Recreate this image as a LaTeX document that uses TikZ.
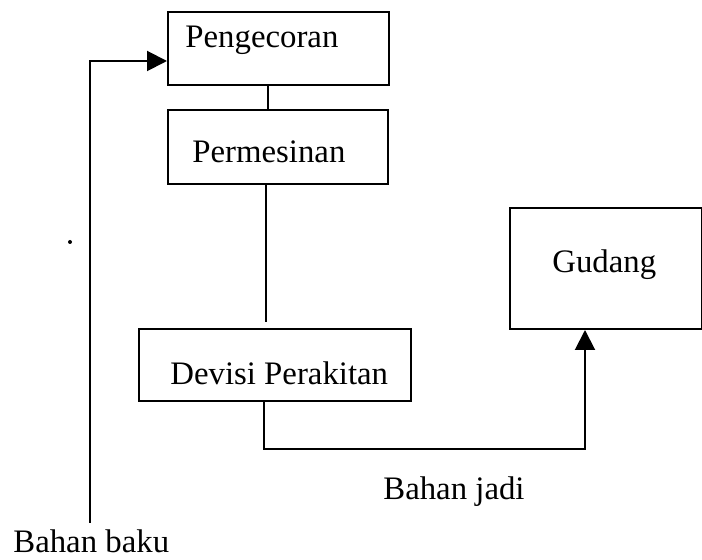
\documentclass[tikz,border=0pt]{standalone}
\usepackage{fontspec}
\setmainfont{Liberation Serif}
\usetikzlibrary{arrows.meta}
\begin{document}
\begin{tikzpicture}[x=0.5pt,y=-0.5pt,
  box/.style={draw, line width=1pt, inner sep=0pt, anchor=north west},
  lbl/.style={anchor=base west, inner sep=0pt, font=\fontsize{16.4}{19}\selectfont},
  conn/.style={line width=1pt},
  arr/.style={line width=1pt, -{Triangle[length=10pt,width=10pt]}}]
\useasboundingbox (0,0) rectangle (702,560);
% boxes
\node[box, minimum width=110.5pt, minimum height=36.5pt] (peng) at (167,11) {};
\node[box, minimum width=110pt, minimum height=37pt] (perm) at (167,109) {};
\node[box, minimum width=136pt, minimum height=36pt] (devisi) at (138,328) {};
\node[box, minimum width=96pt, minimum height=60.5pt] (gudang) at (509,207) {};
% texts
\node[lbl] (tpeng) at (185,48) {Pengecoran};
\node[lbl] (tperm) at (192,163) {Permesinan};
\node[lbl] (tdev) at (170,385) {Devisi Perakitan};
\node[lbl] (tgud) at (552,273) {Gudang};
\node[lbl] (jadi) at (383,500) {Bahan jadi};
\node[lbl] (baku) at (13,553) {Bahan baku};
% coordinates
\coordinate (bb) at (90,523);
\coordinate (permend) at (266,322);
\coordinate (corner) at (585,449);
% connectors
\draw[conn] ([xshift=-5.25pt]peng.south) -- ([xshift=-5.25pt]peng.south |- perm.north);
\draw[conn] (perm.south -| permend) -- (permend);
\draw[arr] (bb) |- ([yshift=-6.25pt]peng.west);
\draw[arr] ([xshift=-5.5pt]devisi.south) |- (corner) -- (corner |- gudang.south);
% stray dot
\fill (70,242) circle (1pt);
\end{tikzpicture}
\end{document}
